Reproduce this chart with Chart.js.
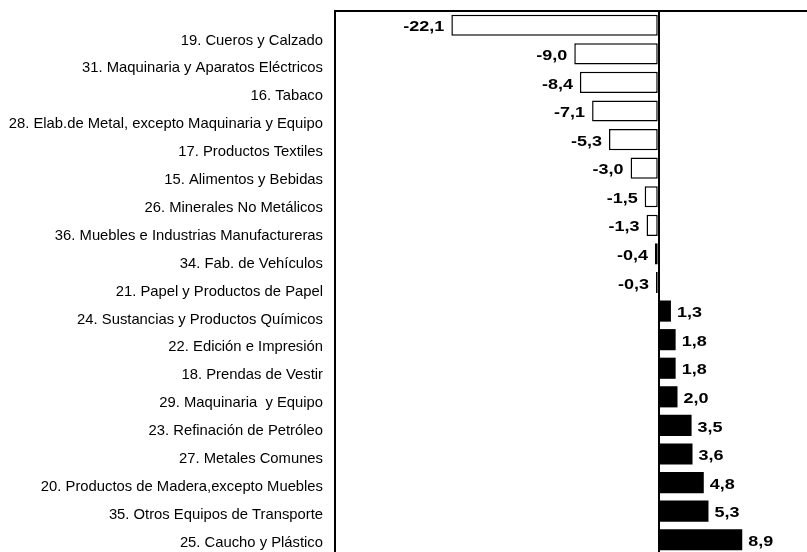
<!DOCTYPE html>
<html>
<head>
<meta charset="utf-8">
<script src="https://cdn.jsdelivr.net/npm/chart.js@4"></script>
<style>
    body { margin: 0; overflow: hidden; background: #fff; }
    #wrap { width: 807px; height: 570px; }
</style>
</head>
<body>
<div id="wrap"><canvas id="sectorChart"></canvas></div>
<script>
    const sectores = [
        '19. Cueros y Calzado',
        '31. Maquinaria y Aparatos Eléctricos',
        '16. Tabaco',
        '28. Elab.de Metal, excepto Maquinaria y Equipo',
        '17. Productos Textiles',
        '15. Alimentos y Bebidas',
        '26. Minerales No Metálicos',
        '36. Muebles e Industrias Manufactureras',
        '34. Fab. de Vehículos',
        '21. Papel y Productos de Papel',
        '24. Sustancias y Productos Químicos',
        '22. Edición e Impresión',
        '18. Prendas de Vestir',
        '29. Maquinaria  y Equipo',
        '23. Refinación de Petróleo',
        '27. Metales Comunes',
        '20. Productos de Madera,excepto Muebles',
        '35. Otros Equipos de Transporte',
        '25. Caucho y Plástico'
    ];
    const variacion = [-22.1, -9.0, -8.4, -7.1, -5.3, -3.0, -1.5, -1.3, -0.4, -0.3,
                       1.3, 1.8, 1.8, 2.0, 3.5, 3.6, 4.8, 5.3, 8.9];

    // etiquetas de valor al final de cada barra
    const valueLabels = {
        id: 'valueLabels',
        afterDatasetsDraw(chart) {
            const ctx = chart.ctx;
            const meta = chart.getDatasetMeta(0);
            ctx.save();
            ctx.fillStyle = '#000';
            ctx.font = 'bold 15px "Liberation Sans", Arial, sans-serif';
            ctx.textBaseline = 'middle';
            meta.data.forEach(function(bar, i) {
                const v = variacion[i];
                const txt = v.toFixed(1).replace('.', ',');
                const neg = v < 0;
                ctx.save();
                ctx.translate(neg ? bar.x - 7 : bar.x + 6, bar.y + 2);
                ctx.scale(1.2, 1);
                ctx.textAlign = neg ? 'right' : 'left';
                ctx.fillText(txt, 0, 0);
                ctx.restore();
            });
            ctx.restore();
        }
    };

    const ctx = document.getElementById('sectorChart').getContext('2d');
    const chart = new Chart(ctx, {
        type: 'bar',
        data: {
            labels: sectores,
            datasets: [{
                data: variacion,
                backgroundColor: variacion.map(v => v < 0 ? '#ffffff' : '#000000'),
                borderColor: '#000000',
                borderWidth: variacion.map(v => v < 0 ? 1.5 : 0),
                borderSkipped: false,
                barPercentage: 0.74,
                categoryPercentage: 1.0,
                xAxisID: 'x',
                yAxisID: 'y'
            }]
        },
        options: {
            indexAxis: 'y',
            responsive: true,
            maintainAspectRatio: false,
            animation: false,
            layout: { padding: { top: 11, bottom: 16, left: 0, right: 0 } },
            plugins: {
                legend: { display: false },
                tooltip: { enabled: false }
            },
            scales: {
                x: {
                    position: 'top',
                    min: -34.5,
                    max: 15.8,
                    afterBuildTicks: function(axis) { axis.ticks = [{ value: 0 }]; },
                    afterFit: function(axis) {
                        axis.height = 0;
                        axis.paddingLeft = 0;
                        axis.paddingRight = 0;
                    },
                    ticks: { display: false },
                    grid: { color: '#000', lineWidth: 2, drawTicks: false },
                    border: { display: true, color: '#000', width: 2 }
                },
                y: {
                    display: false
                },
                // eje de etiquetas: lineal para que el espaciado no sea el mismo que el de las barras
                yl: {
                    type: 'linear',
                    position: 'left',
                    reverse: true,
                    offset: false,
                    bounds: 'data',
                    min: -1.058,
                    max: 18.41,
                    afterBuildTicks: function(axis) {
                        axis.ticks = sectores.map((s, i) => ({ value: i }));
                    },
                    afterFit: function(axis) {
                        axis.width = 335;
                        axis.paddingTop = 0;
                        axis.paddingBottom = 0;
                    },
                    ticks: {
                        padding: 12,
                        color: '#000',
                        font: { family: '"Liberation Sans", Arial, sans-serif', size: 14.8 },
                        callback: function(value) { return sectores[value]; }
                    },
                    grid: { display: false, drawTicks: false, offset: false },
                    border: { display: true, color: '#000', width: 2 }
                }
            }
        },
        plugins: [valueLabels]
    });
</script>
</body>
</html>
